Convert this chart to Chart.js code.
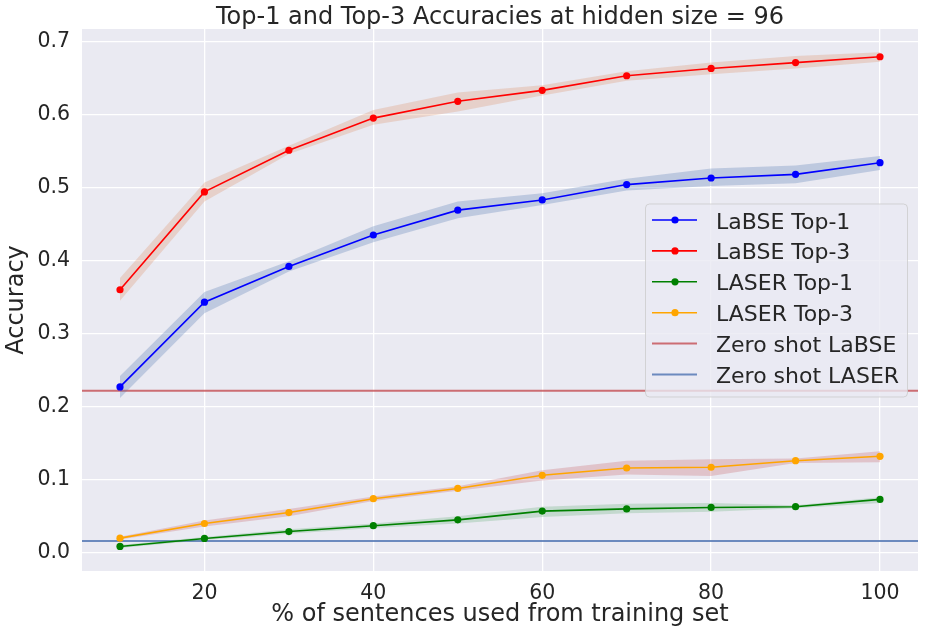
<!DOCTYPE html>
<html>
<head>
<meta charset="utf-8">
<script src="https://cdn.jsdelivr.net/npm/chart.js@4.4.1/dist/chart.umd.min.js"></script>
<style>
  html, body { margin: 0; padding: 0; background: #ffffff; }
  #wrap { width: 952px; height: 630px; }
</style>
</head>
<body>
<div id="wrap"><canvas id="c" width="952" height="630"></canvas></div>
<script>
// ---------------- data ----------------
const chartTitle = 'Top-1 and Top-3 Accuracies at hidden size = 96';
const xTitle = '% of sentences used from training set';
const yTitle = 'Accuracy';

const xValues = [10, 20, 30, 40, 50, 60, 70, 80, 90, 100];
const xTicks = [20, 40, 60, 80, 100];
const yTicks = [0.0, 0.1, 0.2, 0.3, 0.4, 0.5, 0.6, 0.7];
const xRange = [5.5, 104.5];
const yRange = [-0.025, 0.717];

const labseTop1   = [0.227, 0.343, 0.392, 0.435, 0.469, 0.483, 0.504, 0.513, 0.518, 0.534];
const labseTop1Lo = [0.212, 0.328, 0.385, 0.425, 0.458, 0.476, 0.496, 0.502, 0.506, 0.524];
const labseTop1Hi = [0.242, 0.357, 0.399, 0.447, 0.481, 0.492, 0.512, 0.526, 0.530, 0.543];

const labseTop3   = [0.360, 0.494, 0.551, 0.595, 0.618, 0.633, 0.653, 0.663, 0.671, 0.679];
const labseTop3Lo = [0.345, 0.481, 0.546, 0.586, 0.604, 0.626, 0.646, 0.655, 0.663, 0.672];
const labseTop3Hi = [0.376, 0.507, 0.557, 0.606, 0.630, 0.640, 0.659, 0.671, 0.680, 0.685];

const laserTop1   = [0.0086, 0.0196, 0.029, 0.037, 0.045, 0.057, 0.060, 0.062, 0.063, 0.073];
const laserTop1Lo = [0.0066, 0.0176, 0.026, 0.034, 0.040, 0.049, 0.054, 0.056, 0.061, 0.068];
const laserTop1Hi = [0.0106, 0.0216, 0.032, 0.040, 0.050, 0.063, 0.067, 0.068, 0.065, 0.076];

const laserTop3   = [0.020, 0.040, 0.055, 0.074, 0.088, 0.106, 0.116, 0.117, 0.126, 0.132];
const laserTop3Lo = [0.018, 0.036, 0.050, 0.071, 0.085, 0.099, 0.107, 0.105, 0.123, 0.124];
const laserTop3Hi = [0.022, 0.044, 0.060, 0.077, 0.091, 0.113, 0.126, 0.128, 0.129, 0.139];

const zeroShotNames  = ['Zero shot LaBSE', 'Zero shot LASER'];
const zeroShotValues = [0.2217, 0.016];
const zeroShotColors = ['rgba(196,78,82,0.8)', 'rgba(76,114,176,0.8)'];

const seriesNames  = ['LaBSE Top-1', 'LaBSE Top-3', 'LASER Top-1', 'LASER Top-3'];
const seriesColors = ['#0000ff', '#ff0000', '#008000', '#ffa500'];
const bandColors   = ['rgba(76,114,176,0.28)', 'rgba(221,132,82,0.25)', 'rgba(85,168,104,0.25)', 'rgba(196,78,82,0.25)'];
const seriesMean = [labseTop1, labseTop3, laserTop1, laserTop3];
const seriesLo   = [labseTop1Lo, labseTop3Lo, laserTop1Lo, laserTop3Lo];
const seriesHi   = [labseTop1Hi, labseTop3Hi, laserTop1Hi, laserTop3Hi];

// ---------------- build ----------------
const FONT = "'DejaVu Sans', 'Liberation Sans', sans-serif";
const TEXT = '#262626';
const pts = arr => arr.map((v, i) => ({ x: xValues[i], y: v }));

const datasets = [];
seriesNames.forEach((name, i) => {
  datasets.push({
    label: name + ' hi', data: pts(seriesHi[i]), fill: '+1',
    backgroundColor: bandColors[i], borderWidth: 0, borderColor: 'rgba(0,0,0,0)',
    pointRadius: 0, order: 5
  });
  datasets.push({
    label: name + ' lo', data: pts(seriesLo[i]), fill: false,
    borderWidth: 0, borderColor: 'rgba(0,0,0,0)', pointRadius: 0, order: 5
  });
});
zeroShotNames.forEach((name, i) => {
  datasets.push({
    label: name,
    data: [{ x: xRange[0], y: zeroShotValues[i] }, { x: xRange[1], y: zeroShotValues[i] }],
    borderColor: zeroShotColors[i], borderWidth: 2, pointRadius: 0, fill: false, order: 8
  });
});
seriesNames.forEach((name, i) => {
  datasets.push({
    label: name, data: pts(seriesMean[i]), borderColor: seriesColors[i],
    backgroundColor: seriesColors[i], borderWidth: 1.6, pointRadius: 3.6,
    pointBorderWidth: 0, pointBackgroundColor: seriesColors[i], fill: false, order: 1
  });
});

const titlePlugin = {
  id: 'mplTitle',
  afterDraw(chart) {
    const { ctx, chartArea } = chart;
    ctx.save();
    ctx.font = '24px ' + FONT;
    ctx.fillStyle = TEXT;
    ctx.textAlign = 'center';
    ctx.textBaseline = 'alphabetic';
    ctx.fillText(chartTitle, (chartArea.left + chartArea.right) / 2, 23.5);
    ctx.restore();
  }
};

const legendPlugin = {
  id: 'mplLegend',
  afterDraw(chart) {
    const { ctx, chartArea } = chart;
    const items = seriesNames.map((n, i) => ({ name: n, color: seriesColors[i], marker: true }))
      .concat(zeroShotNames.map((n, i) => ({ name: n, color: zeroShotColors[i], marker: false })));
    const w = 262, h = 193;
    const right = chartArea.right - 11;
    const left = right - w;
    const top = (chartArea.top + chartArea.bottom) / 2 - h / 2;
    ctx.save();
    ctx.beginPath();
    ctx.roundRect(left + 0.5, top + 0.5, w, h, 4);
    ctx.fillStyle = 'rgba(234,234,242,0.8)';
    ctx.fill();
    ctx.strokeStyle = 'rgba(204,204,204,0.8)';
    ctx.lineWidth = 1;
    ctx.stroke();
    items.forEach((it, k) => {
      const cy = top + 16.5 + k * 30.9;
      ctx.beginPath();
      ctx.moveTo(left + 7, cy);
      ctx.lineTo(left + 52, cy);
      ctx.strokeStyle = it.color;
      ctx.lineWidth = it.marker ? 1.6 : 2;
      ctx.stroke();
      if (it.marker) {
        ctx.beginPath();
        ctx.arc(left + 30, cy, 3.6, 0, Math.PI * 2);
        ctx.fillStyle = it.color;
        ctx.fill();
      }
      ctx.font = '22px ' + FONT;
      ctx.fillStyle = TEXT;
      ctx.textAlign = 'left';
      ctx.textBaseline = 'alphabetic';
      ctx.fillText(it.name, left + 71, cy + 8.5);
    });
    ctx.restore();
  }
};

const bgPlugin = {
  id: 'plotBg',
  beforeDraw(chart) {
    const { ctx, chartArea } = chart;
    ctx.save();
    ctx.fillStyle = '#eaeaf2';
    ctx.fillRect(chartArea.left, chartArea.top, chartArea.right - chartArea.left, chartArea.bottom - chartArea.top);
    ctx.restore();
  }
};

new Chart(document.getElementById('c'), {
  type: 'line',
  data: { datasets },
  plugins: [bgPlugin, titlePlugin, legendPlugin],
  options: {
    responsive: false,
    devicePixelRatio: 1,
    animation: false,
    layout: { padding: { top: 29, right: 34, left: 0, bottom: 0 } },
    elements: { line: { tension: 0 } },
    plugins: {
      legend: { display: false },
      title: { display: false },
      tooltip: { enabled: false },
      filler: { propagate: false }
    },
    scales: {
      x: {
        type: 'linear', min: xRange[0], max: xRange[1],
        afterBuildTicks: s => { s.ticks = xTicks.map(v => ({ value: v })); },
        afterFit: s => { s.height = 59; },
        grid: { color: '#ffffff', lineWidth: 1.3, drawTicks: false },
        border: { display: false },
        ticks: { padding: 10, color: TEXT, font: { family: FONT, size: 20.5 }, maxRotation: 0,
                 callback: v => String(v) },
        title: { display: true, text: xTitle, color: TEXT, font: { family: FONT, size: 24 },
                 padding: { top: 0, bottom: 1 } }
      },
      y: {
        type: 'linear', min: yRange[0], max: yRange[1],
        afterBuildTicks: s => { s.ticks = yTicks.map(v => ({ value: v })); },
        afterFit: s => { s.width = 82; },
        grid: { color: '#ffffff', lineWidth: 1.3, drawTicks: false },
        border: { display: false },
        ticks: { padding: 12, color: TEXT, font: { family: FONT, size: 20.5 },
                 callback: v => v.toFixed(1) },
        title: { display: true, text: yTitle, color: TEXT, font: { family: FONT, size: 24 },
                 padding: { top: 2, bottom: 0 } }
      }
    }
  }
});
</script>
</body>
</html>
